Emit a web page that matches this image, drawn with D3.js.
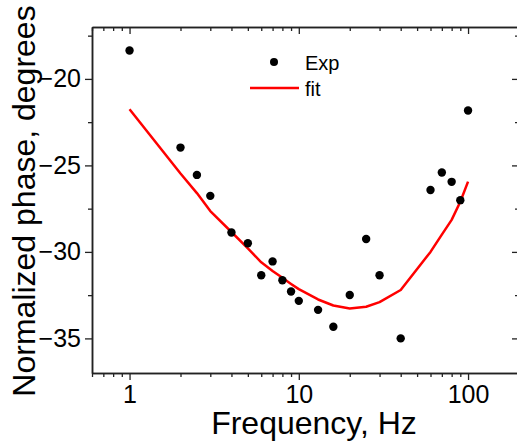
<!DOCTYPE html>
<html>
<head>
<meta charset="utf-8">
<script src="https://cdn.jsdelivr.net/npm/d3@7"></script>
<style>
  body { margin: 0; background: #fff; }
  svg { display: block; font-family: "Liberation Sans", Arial, sans-serif; }
</style>
</head>
<body>
<div id="chart"></div>
<script>
// measured points
var expFreq = [1, 2, 2.5, 3, 4, 5, 6, 7, 8, 9, 10, 13, 16, 20, 25, 30, 40, 60, 70, 80, 90, 100]
var expPhase = [-18.36, -23.97, -25.55, -26.76, -28.88, -29.5, -31.35, -30.55, -31.64, -32.29, -32.83,
    -33.35, -34.33, -32.49, -29.25, -31.35, -35.0, -26.42, -25.41, -25.95, -27.01, -21.83]

// fitted curve, evaluated at the measured frequencies
var fitFreq = [1, 2, 2.5, 3, 4, 5, 6, 7, 8, 9, 10, 13, 16, 20, 25, 30, 40, 60, 70, 80, 90, 100]
var fitPhase = [-21.75, -25.47, -26.6, -27.64, -28.85, -29.8, -30.6, -31.1, -31.5, -31.85, -32.15,
    -32.75, -33.1, -33.27, -33.17, -32.9, -32.2, -30.0, -29.0, -28.15, -27.1, -25.94]

var xMajor = [1, 10, 100]
var xMinor = [0.6, 0.7, 0.8, 0.9, 2, 3, 4, 5, 6, 7, 8, 9, 20, 30, 40, 50, 60, 70, 80, 90, 200]
var yMajor = [-35, -30, -25, -20]
var yMinor = [-32.5, -27.5, -22.5, -17.5]

var W = 517, H = 442
var mLeft = 92, mRight = 519, mTop = 27, mBottom = 373

var x = d3.scaleLog().domain([0.6, 200]).range([mLeft, mRight])
var y = d3.scaleLinear().domain([-37, -17]).range([mBottom, mTop])

var svg = d3.select('#chart').append('svg')
    .attr('width', W)
    .attr('height', H)

// axes: outward ticks on bottom/left, inward on top/right
var addAxis = (axis, tx, ty) => {
    var g = svg.append('g')
        .attr('transform', 'translate(' + tx + ',' + ty + ')')
        .call(axis)
    g.select('.domain').attr('stroke', '#222').attr('stroke-width', 1.5)
    g.selectAll('.tick line').attr('stroke', '#222').attr('stroke-width', 1.3)
    g.selectAll('.tick text').attr('fill', '#000')
        .attr('font-size', 25)
        .attr('font-family', '"Liberation Sans", Arial, sans-serif')
    return g
}

var fmt = d3.format('d')

addAxis(d3.axisBottom(x).tickValues(xMajor).tickSize(7).tickSizeOuter(0).tickFormat(fmt).tickPadding(5), 0, mBottom)
addAxis(d3.axisBottom(x).tickValues(xMinor).tickSize(4).tickSizeOuter(0).tickFormat(''), 0, mBottom)

addAxis(d3.axisTop(x).tickValues(xMajor).tickSize(-7).tickSizeOuter(0).tickFormat(''), 0, mTop)
addAxis(d3.axisTop(x).tickValues(xMinor).tickSize(-4).tickSizeOuter(0).tickFormat(''), 0, mTop)

addAxis(d3.axisLeft(y).tickValues(yMajor).tickSize(7).tickSizeOuter(0).tickFormat(fmt).tickPadding(4), mLeft, 0)
addAxis(d3.axisLeft(y).tickValues(yMinor).tickSize(4).tickSizeOuter(0).tickFormat(''), mLeft, 0)

addAxis(d3.axisRight(y).tickValues(yMajor).tickSize(-7).tickSizeOuter(0).tickFormat(''), mRight, 0)
addAxis(d3.axisRight(y).tickValues(yMinor).tickSize(-4).tickSizeOuter(0).tickFormat(''), mRight, 0)

// fit line
var line = d3.line()
    .x((d, i) => x(fitFreq[i]))
    .y((d, i) => y(fitPhase[i]))

svg.append('path')
    .datum(fitPhase)
    .attr('d', line)
    .attr('fill', 'none')
    .attr('stroke', '#ff0000')
    .attr('stroke-width', 2.5)
    .attr('stroke-linejoin', 'round')

// experimental points
svg.append('g').selectAll('circle')
    .data(expPhase)
    .join('circle')
    .attr('cx', (d, i) => x(expFreq[i]))
    .attr('cy', d => y(d))
    .attr('r', 4.2)
    .attr('fill', '#000')

// legend
var lg = svg.append('g')
lg.append('circle').attr('cx', 274).attr('cy', 62).attr('r', 4).attr('fill', '#000')
lg.append('text').attr('x', 305).attr('y', 69.5).attr('font-size', 20).text('Exp')
lg.append('line').attr('x1', 250).attr('x2', 299).attr('y1', 88).attr('y2', 88)
    .attr('stroke', '#ff0000').attr('stroke-width', 2.5)
lg.append('text').attr('x', 305).attr('y', 95.5).attr('font-size', 20).text('fit')

// axis titles
svg.append('text')
    .attr('x', 314)
    .attr('y', 434)
    .attr('text-anchor', 'middle')
    .attr('font-size', 32)
    .text('Frequency, Hz')

svg.append('text')
    .attr('transform', 'translate(35,201) rotate(-90)')
    .attr('text-anchor', 'middle')
    .attr('font-size', 32)
    .text('Normalized phase, degrees')
</script>
</body>
</html>
